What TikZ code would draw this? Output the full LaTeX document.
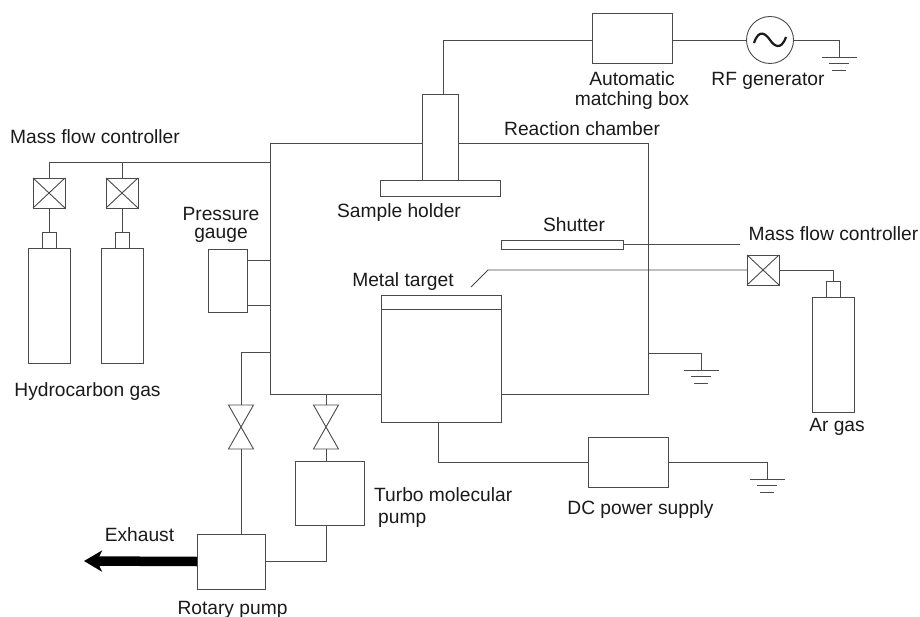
\documentclass[tikz,border=0pt]{standalone}
\usepackage{fontspec}
\setmainfont{Liberation Sans}
\usetikzlibrary{arrows.meta,positioning}
\definecolor{rigLine}{HTML}{4a4a4a}
\definecolor{rigText}{HTML}{1a1a1a}
\tikzset{
  box/.style={draw=rigLine, fill=white, line width=0.9pt, inner sep=0pt, outer sep=0pt},
  mfcbox/.style={box, minimum width=32pt, minimum height=30pt},
  regbox/.style={box, minimum width=14pt, minimum height=16pt},
  cylbox/.style={box, minimum width=42pt, minimum height=115pt},
  valvebox/.style={inner sep=0pt, outer sep=0pt, minimum width=25pt, minimum height=44pt},
  lbl/.style={font=\fontsize{19.2}{22}\selectfont, text=rigText, align=center, inner sep=0pt},
  pipe/.style={draw=rigLine, line width=0.9pt},
}
\begin{document}
\begin{tikzpicture}[x=1pt,y=-1pt]
  \useasboundingbox (0,0) rectangle (920,617);
  % chamber and what sits in it
  \node[box,minimum width=378pt,minimum height=251pt] (chamber) at (459,269) {};
  \node[box,minimum width=36pt,minimum height=86pt] (column) at (440,137.5) {};
  \node[box,minimum width=120pt,minimum height=16pt,below=0pt of column] (holder) {};
  \node[box,minimum width=122pt,minimum height=9pt] (shutter) at (562,244.5) {};
  \node[box,minimum width=120pt,minimum height=113pt] (cathode) at (441,366) {};
  \node[box,minimum width=120pt,minimum height=14pt,above=0pt of cathode] (target) {};
  % rf side
  \node[box,minimum width=80pt,minimum height=50pt] (match) at (632,38) {};
  \node[box,circle,minimum size=47pt] (rf) at (770,40) {};
  \draw[line width=2.2pt,draw=rigText,shift={(rf)}] (-16,3) .. controls (-11,-12) and (-4,-6) .. (0,0)
      .. controls (4,6) and (11,11) .. (16,-3);
  % dc side and pumps
  \node[box,minimum width=80pt,minimum height=50pt] (dc) at (628,462) {};
  \node[box,minimum width=69pt,minimum height=64pt] (turbo) at (329.5,493) {};
  \node[box,minimum width=68pt,minimum height=55pt] (rotary) at (231,561.5) {};
  \node[box,minimum width=39pt,minimum height=63pt] (gauge) at (227.5,280.5) {};
  \node[valvebox] (vrot) at (241,427) {};
  \node[valvebox] (vtur) at (326,427) {};
  \foreach \v in {vrot,vtur}{\draw[pipe] (\v.north west)--(\v.north east)--(\v.south west)--(\v.south east)--cycle;}
  % gas lines
  \node[mfcbox] (mfa) at (49,193) {};
  \node[mfcbox,right=41pt of mfa] (mfb) {};
  \node[mfcbox] (mfr) at (763,270) {};
  \foreach \m in {mfa,mfb,mfr}{\draw[pipe] (\m.north west)--(\m.south east) (\m.north east)--(\m.south west);}
  \node[regbox,below=24pt of mfa] (rega) {};
  \node[regbox,below=24pt of mfb] (regb) {};
  \node[regbox] (regr) at (833,289) {};
  \node[cylbox,below=0.5pt of rega] (cyla) {};
  \node[cylbox,below=0.5pt of regb] (cylb) {};
  \node[cylbox,below=0.5pt of regr] (cylr) {};
  % ports
  \coordinate (gasin) at (270,162);
  \coordinate (gaugeup) at (270,260);
  \coordinate (gaugedn) at (270,305);
  \coordinate (vacin) at (270,352);
  \coordinate (earthin) at (648,353);
  \coordinate (shutend) at (740,244);
  \coordinate (feedend) at (471,287);
  \coordinate (feedbend) at (488,270);
  \coordinate (hotin) at (443,94.5);
  \coordinate (dcout) at (438,422.5);
  \coordinate (tip) at (84,561);
  \coordinate (gnda) at (839,57);
  \coordinate (gndb) at (701,370);
  \coordinate (gndc) at (767,479);
  % connectors
  \draw[pipe] (hotin)--(hotin |- rf.west)--(match.west |- rf.west);
  \draw[pipe] (match.east |- rf.west)--(rf.west);
  \draw[pipe] (rf.east)-|(gnda);
  \draw[pipe] (gasin)-|(mfa.north);
  \draw[pipe] (mfb.north)--(mfb.north |- gasin);
  \foreach \m/\r in {mfa/rega,mfb/regb}{\draw[pipe] (\m.south)--(\r.north);}
  \draw[pipe] (feedend)--(feedbend)--(mfr.west);
  \draw[pipe] (mfr.east)-|(regr.north);
  \draw[pipe] (shutter.east |- shutend)--(shutend);
  \draw[pipe] (gauge.east |- gaugeup)--(gaugeup);
  \draw[pipe] (gauge.east |- gaugedn)--(gaugedn);
  \draw[pipe] (earthin)-|(gndb);
  \draw[pipe] (dcout)|-(dc.west);
  \draw[pipe] (dc.east)-|(gndc);
  \draw[pipe] (vacin)-|(vrot.north);
  \draw[pipe] (vrot.south)--(vrot.south |- rotary.north);
  \draw[pipe] (vtur.north)--(vtur.north |- chamber.south);
  \draw[pipe] (vtur.south)--(vtur.south |- turbo.north);
  \draw[pipe] (vtur.south |- turbo.south)|-(rotary.east);
  \draw[black,line width=9.5pt,-{Stealth[length=18pt,width=21pt,inset=5pt]}] (rotary.west)--(tip);
  \foreach \g in {gnda,gndb,gndc}{\draw[pipe,shift={(\g)}] (-17.5,0)--(17.5,0) (-10,6.5)--(10,6.5) (-7,13)--(7,13);}
  % labels
  \node[lbl] (tmfa) at (95,137) {Mass flow controller};
  \node[lbl] (tmfr) at (833.5,234) {Mass flow controller};
  \node[lbl] (tmatch) at (632,91) {Automatic\\[-2pt]matching box};
  \node[lbl] (trf) at (768,81) {RF generator};
  \node[lbl,anchor=west] (tchamber) at (504,129) {Reaction chamber};
  \node[lbl] (tholder) at (399,213) {Sample holder};
  \node[lbl] (tshutter) at (574,225) {Shutter};
  \node[lbl] (ttarget) at (403,282) {Metal target};
  \node[lbl] (tgauge) at (221,225) {Pressure\\[-4pt]gauge};
  \node[lbl] (thydro) at (87.5,392) {Hydrocarbon gas};
  \node[lbl] (tar) at (837,427) {Ar gas};
  \node[lbl,align=left,anchor=west] (tturbo) at (374,508) {Turbo molecular\\\hspace*{4pt}pump};
  \node[lbl] (tdc) at (640.5,510) {DC power supply};
  \node[lbl] (trotary) at (232.5,610) {Rotary pump};
  \node[lbl] (texhaust) at (139.5,535) {Exhaust};
\end{tikzpicture}
\end{document}
